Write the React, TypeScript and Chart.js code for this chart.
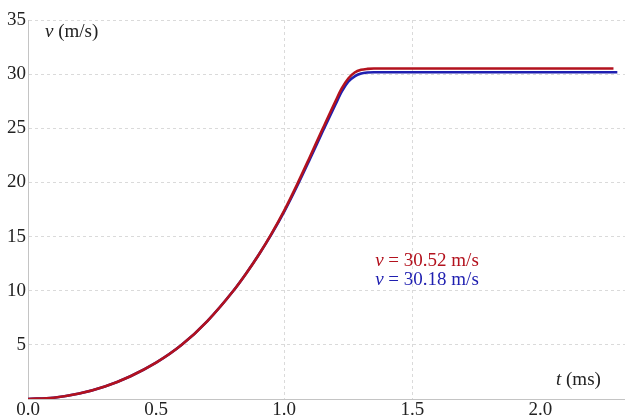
import React, { useEffect, useRef } from "react";
import { Chart, registerables } from "chart.js";

Chart.register(...registerables);

// Time (ms) and speed (m/s) for the two curves
const tRed = [0, 0.1, 0.2, 0.3, 0.4, 0.5, 0.6, 0.7, 0.8, 0.85, 0.9, 0.95, 1.0, 1.05, 1.1, 1.15, 1.2, 1.225, 1.25, 1.275, 1.3, 1.325, 1.35, 1.4, 1.6, 1.8, 2.0, 2.285];
const vRed = [0, 0.12, 0.5, 1.15, 2.1, 3.35, 5.0, 7.2, 9.95, 11.55, 13.3, 15.25, 17.4, 19.8, 22.35, 24.95, 27.5, 28.7, 29.6, 30.15, 30.4, 30.49, 30.52, 30.52, 30.52, 30.52, 30.52, 30.52];
const tBlue = [0, 0.1, 0.2, 0.3, 0.4, 0.5, 0.6, 0.7, 0.8, 0.85, 0.9, 0.95, 1.0, 1.05, 1.1, 1.15, 1.2, 1.225, 1.25, 1.275, 1.3, 1.325, 1.35, 1.4, 1.6, 1.8, 2.0, 2.3];
const vBlue = [0, 0.12, 0.5, 1.15, 2.1, 3.35, 5.0, 7.2, 9.95, 11.55, 13.3, 15.2, 17.3, 19.65, 22.15, 24.7, 27.2, 28.4, 29.3, 29.8, 30.05, 30.15, 30.18, 30.18, 30.18, 30.18, 30.18, 30.18];

const xTicks = [0, 0.5, 1.0, 1.5, 2.0];
const xGridAt = [1.0, 1.5];
const yTicks = [5, 10, 15, 20, 25, 30, 35];
const labelRed = "30.52 m/s";
const labelBlue = "30.18 m/s";
const yTitle = "(m/s)";
const xTitle = "(ms)";

const RED = "#b3121e";
const BLUE = "#1f1fb0";
const FONT = "'Liberation Serif', 'DejaVu Serif', serif";

export default function App() {
  const ref = useRef<HTMLCanvasElement>(null);
  useEffect(() => {
    document.body.style.margin = "0";
    const ctx = ref.current!;
    const textPlugin = {
      id: "texts",
      afterDraw(chart: any) {
        const c = chart.ctx;
        const x = chart.scales.x;
        const y = chart.scales.y;
        c.save();
        c.textBaseline = "middle";
        c.textAlign = "left";
        const drawV = (px: number, py: number, rest: string, color: string) => {
          c.fillStyle = color;
          c.font = `italic 19px ${FONT}`;
          c.fillText("v", px, py);
          const w = c.measureText("v").width;
          c.font = `19px ${FONT}`;
          c.fillText(" = " + rest, px + w, py);
        };
        // axis titles
        c.fillStyle = "#222";
        c.font = `italic 19px ${FONT}`;
        const vx = x.left + 17;
        const vy = 32;
        c.fillText("v", vx, vy);
        let w = c.measureText("v").width;
        c.font = `19px ${FONT}`;
        c.fillText(" " + yTitle, vx + w, vy);

        c.font = `italic 19px ${FONT}`;
        const tx = 556;
        const ty = 380;
        c.fillText("t", tx, ty);
        w = c.measureText("t").width;
        c.font = `19px ${FONT}`;
        c.fillText(" " + xTitle, tx + w, ty);

        // annotations
        const ax = x.getPixelForValue(1.355);
        drawV(ax, y.getPixelForValue(12.7), labelRed, RED);
        drawV(ax, y.getPixelForValue(11.0), labelBlue, BLUE);
        c.restore();
      },
    };
    const chart = new Chart(ctx, {
      type: "scatter",
      data: {
        datasets: [
          {
            data: tRed.map((t, i) => ({ x: t, y: vRed[i] })),
            showLine: true,
            borderColor: RED,
            borderWidth: 2.6,
            pointRadius: 0,
            cubicInterpolationMode: "monotone",
          },
          {
            data: tBlue.map((t, i) => ({ x: t, y: vBlue[i] })),
            showLine: true,
            borderColor: BLUE,
            borderWidth: 2.6,
            pointRadius: 0,
            cubicInterpolationMode: "monotone",
          },
        ],
      },
      options: {
        animation: false,
        responsive: false,
        maintainAspectRatio: false,
        layout: { padding: { top: 20, right: 0, left: 0, bottom: 0 } },
        plugins: { legend: { display: false }, tooltip: { enabled: false } },
        scales: {
          x: {
            type: "linear",
            min: 0,
            max: 2.33,
            afterFit: (s: any) => {
              s.height = 20;
            },
            afterBuildTicks: (s: any) => {
              s.ticks = xTicks.map((v) => ({ value: v }));
            },
            ticks: {
              font: { family: FONT, size: 19 },
              color: "#222",
              padding: 0,
              maxRotation: 0,
              callback: (v: any) => Number(v).toFixed(1),
            },
            grid: {
              color: (c: any) =>
                c.tick && xGridAt.includes(c.tick.value) ? "#dadada" : "rgba(0,0,0,0)",
              drawTicks: false,
              lineWidth: 1,
            },
            border: { color: "#c4c4c4", dash: [3, 3], display: true },
          },
          y: {
            type: "linear",
            min: 0,
            max: 35,
            afterFit: (s: any) => {
              s.width = 28;
            },
            afterBuildTicks: (s: any) => {
              s.ticks = [0, ...yTicks].map((v) => ({ value: v }));
            },
            ticks: {
              font: { family: FONT, size: 19 },
              color: "#222",
              padding: 2,
              callback: (v: any) => (v === 0 ? "" : String(v)),
            },
            grid: { color: "#dadada", drawTicks: false, lineWidth: 1 },
            border: { color: "#c4c4c4", dash: [3, 3], display: true },
          },
        },
      },
      plugins: [textPlugin],
    } as any);
    return () => chart.destroy();
  }, []);
  return <canvas ref={ref} width={625} height={419} style={{ display: "block" }} />;
}
